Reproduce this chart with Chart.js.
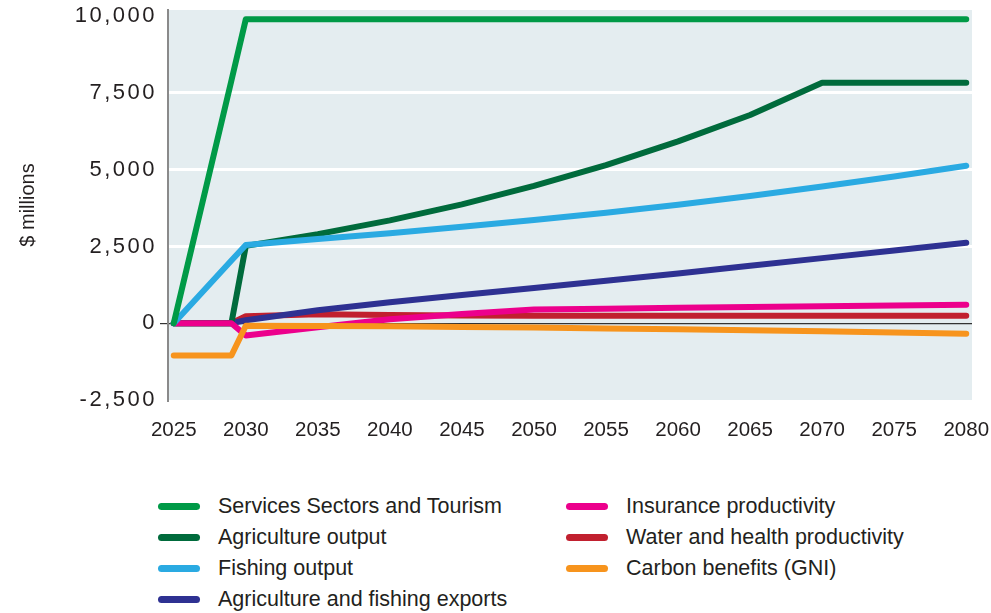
<!DOCTYPE html>
<html><head><meta charset="utf-8">
<script src="https://cdn.jsdelivr.net/npm/chart.js@4/dist/chart.umd.min.js"></script>
<style>
html,body{margin:0;padding:0;background:#fff;}
#wrap{position:relative;width:991px;height:613px;overflow:hidden;}
#cbox{position:absolute;left:0;top:0;width:991px;height:460px;}
.item{position:absolute;height:24px;display:flex;align-items:center;font-family:"Liberation Sans",Arial,sans-serif;font-size:21.5px;color:#231f20;white-space:nowrap;}
.mk{width:42px;height:7px;border-radius:4px;margin-right:18px;flex:none;}
</style></head><body>
<div id="wrap"><div id="cbox"><canvas id="c"></canvas></div><div id="legend"></div></div>
<script>
const years = [2025, 2029, 2030, 2035, 2040, 2045, 2050, 2055, 2060, 2065, 2070, 2075, 2080];
const services    = [0, 7900, 9900, 9900, 9900, 9900, 9900, 9900, 9900, 9900, 9900, 9900, 9900];
const agriculture = [0, 0, 2520, 2900, 3350, 3870, 4470, 5150, 5920, 6780, 7830, 7830, 7830];
const fishing     = [0, 2040, 2550, 2740, 2930, 3140, 3360, 3600, 3860, 4140, 4450, 4780, 5130];
const exportsAF   = [0, 0, 100, 420, 680, 920, 1150, 1380, 1620, 1870, 2120, 2370, 2620];
const insurance   = [0, 0, -400, -130, 130, 300, 450, 475, 500, 525, 550, 575, 600];
const water       = [0, 0, 230, 290, 270, 250, 240, 240, 240, 240, 240, 240, 240];
const carbon      = [-1050, -1050, -80, -90, -100, -120, -140, -170, -200, -230, -260, -300, -340];
const xTicks = [2025, 2030, 2035, 2040, 2045, 2050, 2055, 2060, 2065, 2070, 2075, 2080];
const yTicks = [-2500, 0, 2500, 5000, 7500, 10000];
const seriesNames = ["Services Sectors and Tourism", "Agriculture output", "Fishing output", "Agriculture and fishing exports", "Insurance productivity", "Water and health productivity", "Carbon benefits (GNI)"];
const seriesColors = ["#009a47", "#006b3c", "#2aaae2", "#2e3192", "#ec008c", "#c1202f", "#f7941d"];
const seriesValues = [services, agriculture, fishing, exportsAF, insurance, water, carbon];
const drawOrder = [0, 4, 1, 5, 3, 6, 2];

const datasets = seriesNames.map((n, i) => ({
  label: n,
  data: years.map((y, j) => ({x: y, y: seriesValues[i][j]})),
  borderColor: seriesColors[i],
  backgroundColor: seriesColors[i],
  borderWidth: 6,
  borderCapStyle: 'round',
  borderJoinStyle: 'round',
  pointRadius: 0,
  tension: 0,
  fill: false,
  order: drawOrder[i]
}));

const bgPlugin = {
  id: 'bg',
  beforeDraw(chart) {
    const {ctx, chartArea: a} = chart;
    ctx.save();
    ctx.fillStyle = '#e4edf0';
    ctx.fillRect(a.left, a.top, a.right - a.left, a.bottom - a.top);
    ctx.restore();
  },
  afterLayout(chart) {
    const s = chart.scales.y;
    if (!s._spaced) {
      const orig = s.drawLabels.bind(s);
      s.drawLabels = function(area) {
        const ctx = this.ctx;
        ctx.save();
        ctx.letterSpacing = '2.5px';
        orig(area);
        ctx.restore();
      };
      s._spaced = true;
    }
  }
};

const FONT = '"Liberation Sans", Arial, sans-serif';
new Chart(document.getElementById('c'), {
  type: 'line',
  data: {datasets},
  plugins: [bgPlugin],
  options: {
    responsive: true,
    maintainAspectRatio: false,
    animation: false,
    layout: {padding: {top: 10, right: 19, bottom: 0, left: 0}},
    plugins: {legend: {display: false}, tooltip: {enabled: false}},
    scales: {
      x: {
        type: 'linear',
        min: 2024.6, max: 2080.4,
        afterBuildTicks: s => { s.ticks = xTicks.map(v => ({value: v})); },
        afterFit: s => { s.height = 60; s.paddingLeft = 0; s.paddingRight = 0; },
        grid: {display: false, drawTicks: false},
        border: {display: false},
        ticks: {color: '#231f20', font: {family: FONT, size: 20.5}, padding: 18, maxRotation: 0, autoSkip: false, callback: v => String(v)}
      },
      y: {
        min: -2500, max: 10200,
        afterBuildTicks: s => { s.ticks = yTicks.map(v => ({value: v})); },
        afterFit: s => { s.width = 168; s.paddingTop = 0; s.paddingBottom = 0; },
        grid: {
          drawTicks: true, tickLength: 8,
          color: c => (c.tick && c.tick.value === 0) ? '#333333' : ((c.tick && (c.tick.value === 10000 || c.tick.value === -2500)) ? 'rgba(0,0,0,0)' : '#ffffff'),
          lineWidth: c => (c.tick && c.tick.value === 0) ? 1.2 : 3,
          tickColor: c => (c.tick && c.tick.value === 0) ? '#333333' : 'rgba(0,0,0,0)',
          tickWidth: 1.2
        },
        border: {display: true, color: '#8a8a8a', width: 2},
        ticks: {color: '#231f20', font: {family: FONT, size: 22}, padding: 3, autoSkip: false,
                callback: v => v.toLocaleString('en-US')},
        title: {display: true, text: '$ millions', color: '#231f20', font: {family: FONT, size: 20}, padding: {top: 16, bottom: 0}}
      }
    }
  }
});

const legend = document.getElementById('legend');
const colX = [158, 566];
const rowY = [494, 525, 556, 587];
seriesNames.forEach((n, i) => {
  const col = i < 4 ? 0 : 1;
  const row = i < 4 ? i : i - 4;
  const d = document.createElement('div');
  d.className = 'item';
  d.style.left = colX[col] + 'px';
  d.style.top = rowY[row] + 'px';
  d.innerHTML = '<span class="mk" style="background:' + seriesColors[i] + '"></span><span></span>';
  d.lastChild.textContent = n;
  legend.appendChild(d);
});
</script>
</body></html>
